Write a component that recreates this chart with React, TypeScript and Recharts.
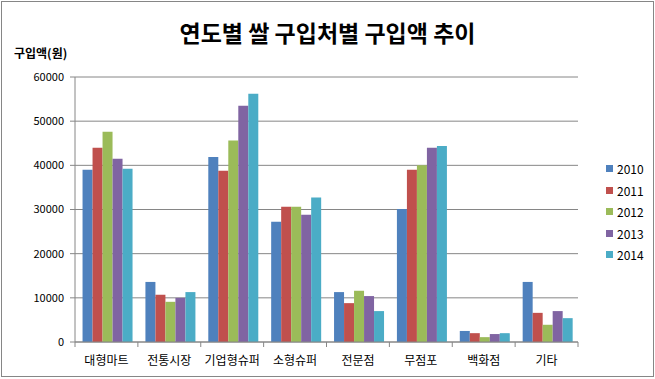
import React from "react";
import {
    BarChart,
    Bar,
    XAxis,
    YAxis,
    CartesianGrid,
} from "recharts";

const categories = ["대형마트", "전통시장", "기업형슈퍼", "소형슈퍼", "전문점", "무점포", "백화점", "기타"];
const years = ["2010", "2011", "2012", "2013", "2014"];
const colors = ["#4F81BD", "#C0504D", "#9BBB59", "#8064A2", "#4BACC6"];

const v2010 = [39000, 13600, 41900, 27200, 11300, 30100, 2500, 13600];
const v2011 = [44000, 10700, 38800, 30600, 8800, 39000, 2000, 6600];
const v2012 = [47600, 9100, 45600, 30600, 11600, 40000, 1100, 3900];
const v2013 = [41500, 10000, 53500, 28800, 10400, 44000, 1800, 7000];
const v2014 = [39200, 11300, 56200, 32700, 7000, 44400, 2000, 5400];

const yTicks = [0, 10000, 20000, 30000, 40000, 50000, 60000];

const seriesValues = [v2010, v2011, v2012, v2013, v2014];

const data = categories.map((name, i) => {
    const row: Record<string, string | number> = { name };
    years.forEach((y, k) => {
        row[y] = seriesValues[k][i];
    });
    return row;
});

const FONT = "'Noto Sans CJK KR', 'Noto Sans', sans-serif";
const GRID = "#868686";
const AXIS_Y = 342; // bottom of plot area

function CategoryTick(props: any) {
    const { x, payload, index, visibleTicksCount } = props;
    const off = payload && payload.offset ? payload.offset : 31.4;
    const top = AXIS_Y;
    return (
        <g>
            <line x1={x - off} y1={top} x2={x - off} y2={top + 5} stroke={GRID} />
            {index === visibleTicksCount - 1 && (
                <line x1={x + off} y1={top} x2={x + off} y2={top + 5} stroke={GRID} />
            )}
            <text x={x} y={top + 23} textAnchor="middle" fontSize={12} fill="#000" fontFamily={FONT}>
                {payload.value}
            </text>
        </g>
    );
}

export default function App() {
    return (
        <div
            style={{
                position: "absolute",
                left: 0,
                top: 0,
                width: 655,
                height: 379,
                background: "#fff",
                fontFamily: FONT,
            }}
        >
            <div
                style={{
                    position: "absolute",
                    left: 1,
                    top: 1,
                    width: 651,
                    height: 374,
                    border: "1px solid #868686",
                }}
            />
            <div
                style={{
                    position: "absolute",
                    left: 0,
                    width: 655,
                    top: 17,
                    textAlign: "center",
                    fontSize: 23,
                    fontWeight: 700,
                    lineHeight: "30px",
                }}
            >
                연도별 쌀 구입처별 구입액 추이
            </div>
            <div
                style={{
                    position: "absolute",
                    left: 14,
                    top: 45,
                    fontSize: 12,
                    fontWeight: 700,
                    lineHeight: "16px",
                }}
            >
                구입액(원)
            </div>
            <BarChart
                width={655}
                height={379}
                data={data}
                margin={{ top: 77, right: 77, bottom: 7, left: 0 }}
                barCategoryGap="12%"
                barGap={0}
            >
                <CartesianGrid vertical={false} stroke={GRID} />
                <XAxis
                    dataKey="name"
                    height={30}
                    tickLine={false}
                    axisLine={{ stroke: GRID }}
                    interval={0}
                    tick={<CategoryTick />}
                />
                <YAxis
                    width={75}
                    domain={[0, 60000]}
                    ticks={yTicks}
                    interval={0}
                    tickSize={5}
                    tickMargin={6}
                    axisLine={{ stroke: GRID }}
                    tickLine={{ stroke: GRID }}
                    tick={{ fontSize: 11, fill: "#000", fontFamily: FONT }}
                />
                {years.map((y, k) => (
                    <Bar key={y} dataKey={y} fill={colors[k]} isAnimationActive={false} />
                ))}
            </BarChart>
            <div style={{ position: "absolute", left: 606, top: 158 }}>
                {years.map((y, k) => (
                    <div
                        key={y}
                        style={{ display: "flex", alignItems: "center", height: 21.5, fontSize: 12 }}
                    >
                        <span
                            style={{
                                display: "inline-block",
                                width: 7,
                                height: 7,
                                background: colors[k],
                                marginRight: 4,
                            }}
                        />
                        {y}
                    </div>
                ))}
            </div>
        </div>
    );
}
